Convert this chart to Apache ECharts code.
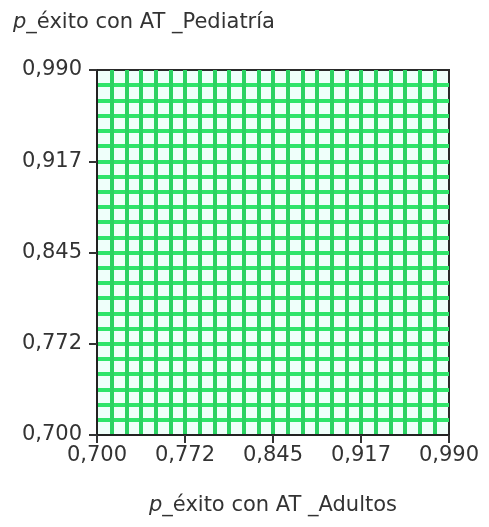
<!DOCTYPE html>
<html>
<head>
<meta charset="utf-8">
<script src="https://cdn.jsdelivr.net/npm/echarts@6/dist/echarts.min.js"></script>
<style>
  html, body { margin: 0; padding: 0; background: #fff; }
  #chart { width: 489px; height: 527px; }
</style>
</head>
<body>
<div id="chart"></div>
<script>
// axis range and labelled ticks (both axes use the same)
var axisMin = 0.700;
var axisMax = 0.990;
var tickValues = [0.700, 0.7725, 0.845, 0.9175, 0.990];
var tickLabels = ['0,700', '0,772', '0,845', '0,917', '0,990'];
// number of grid cells along each axis
var gridSteps = 24;
var xName = '_éxito con AT _Adultos';
var yName = '_éxito con AT _Pediatría';

var font = 'DejaVu Sans';
var fs = 21;

function labelFor(v) {
  for (var i = 0; i < tickValues.length; i++) {
    if (Math.abs(tickValues[i] - v) < 1e-6) return tickLabels[i];
  }
  return '';
}

var chart = echarts.init(document.getElementById('chart'));

var nameStyle = {
  color: '#333',
  fontFamily: font,
  fontSize: fs,
  fontWeight: 'normal',
  rich: { i: { fontStyle: 'italic', fontFamily: font, fontSize: fs, color: '#333' } }
};

var valueAxis = {
  type: 'value',
  min: axisMin,
  max: axisMax,
  axisLine: { show: true, onZero: false, lineStyle: { color: '#222', width: 2 } },
  axisTick: { show: true, length: 8, customValues: tickValues, lineStyle: { color: '#333', width: 2 } },
  axisLabel: {
    customValues: tickValues,
    formatter: labelFor,
    color: '#333',
    fontFamily: font,
    fontSize: fs
  },
  splitLine: { show: false }
};

function gridAxis(pos, color) {
  return {
    type: 'value',
    position: pos,
    min: 0,
    max: gridSteps,
    interval: 1,
    axisLine: { show: false },
    axisTick: { show: false },
    axisLabel: { show: false },
    splitLine: { show: true, showMinLine: false, showMaxLine: false, lineStyle: { color: color, width: 4 } }
  };
}

var option = {
  backgroundColor: '#fff',
  animation: false,
  title: {
    text: '{i|p}' + yName,
    left: 8,
    top: 7,
    textStyle: nameStyle
  },
  grid: {
    left: 97,
    top: 70,
    width: 352,
    height: 365,
    show: true,
    backgroundColor: '#effffa',
    borderColor: '#2a2a2a',
    borderWidth: 2
  },
  xAxis: [
    Object.assign({}, valueAxis, {
      position: 'bottom',
      name: '{i|p}' + xName,
      nameLocation: 'middle',
      nameGap: 60,
      nameTextStyle: nameStyle,
      axisLabel: Object.assign({}, valueAxis.axisLabel, { margin: 10 })
    }),
    gridAxis('top', '#2bd262')
  ],
  yAxis: [
    Object.assign({}, valueAxis, {
      position: 'left',
      axisLabel: Object.assign({}, valueAxis.axisLabel, { margin: 15 })
    }),
    gridAxis('right', '#2fe46a')
  ],
  series: []
};

chart.setOption(option);
</script>
</body>
</html>
